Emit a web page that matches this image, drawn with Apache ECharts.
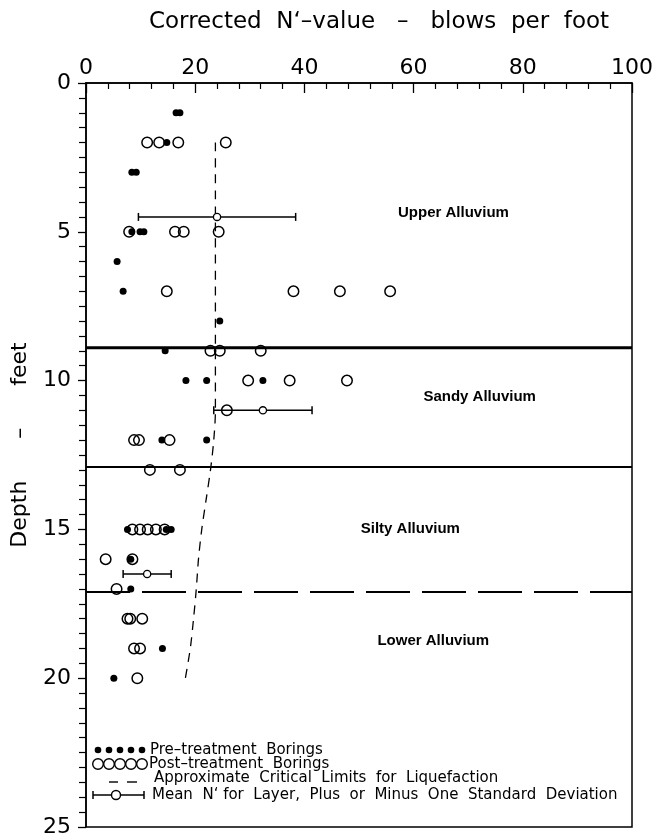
<!DOCTYPE html>
<html><head><meta charset="utf-8">
<script src="https://cdn.jsdelivr.net/npm/echarts@6/dist/echarts.min.js"></script>
<style>html,body{margin:0;padding:0;background:#fff}#c{width:655px;height:839px}</style>
</head><body><div id="c"></div>
<script>
// ---- data ----
const xTickValues = [0, 20, 40, 60, 80, 100];
const yTickValues = [0, 5, 10, 15, 20, 25];

const preN     = [16.5, 17.2, 14.8, 8.4, 9.2, 8.4, 9.9, 10.6, 5.7, 6.8, 24.5, 14.5, 18.3, 22.1, 32.4, 13.9, 22.1, 7.6, 14.7, 15.6, 8.2, 8.2, 14.0, 5.1];
const preDepth = [1,    1,    2,    3,   3,   5,   5,   5,    6,   7,   8,    9,    10,   10,   10,   12,   12,   15,  15,   15,   16,  17,  19,   20];

const postN     = [11.2, 13.4, 16.9, 25.6, 7.9, 16.3, 17.9, 24.3, 14.8, 38.0, 46.5, 55.7, 22.8, 24.5, 32.0, 29.7, 37.3, 47.8, 25.8, 8.8, 9.7, 15.3, 11.7, 17.2, 8.5, 9.9, 11.3, 12.8, 14.4, 3.6, 8.5, 5.6, 7.6, 8.1, 10.3, 8.8, 9.9, 9.4];
const postDepth = [2,    2,    2,    2,    5,   5,    5,    5,    7,    7,    7,    7,    9,    9,    9,    10,   10,   10,   11,   12,  12,  12,   13,   13,   15,  15,  15,   15,   15,   16,  16,  17,  18,  18,  18,   19,  19,  20];

const meanN     = [24.0, 32.4, 11.2];
const meanDepth = [4.5, 11, 16.5];
const meanSd    = [14.4, 9.0, 4.4];

const critN     = [23.7, 23.7, 23.7, 23.4, 22.8, 22.0, 21.2, 20.6, 20.2, 19.7, 19.1, 18.2];
const critDepth = [2,    9,    11,   12,   13,   14,   15,   16,   17,   18,   19,   20];

const boundaryDepth = [8.9, 12.9, 17.1];

const layerNames = ['Upper Alluvium', 'Sandy Alluvium', 'Silty Alluvium', 'Lower Alluvium'];
const layerX     = [67.3, 72.1, 59.4, 63.6];
const layerDepth = [4.35, 10.55, 14.98, 18.75];

// ---- chart ----
const FONT = 'DejaVu Sans';
const chart = echarts.init(document.getElementById('c'), null, {renderer: 'canvas'});

const boundaryStyles = [
  {width: 3, type: 'solid'},
  {width: 2, type: 'solid'},
  {width: 2, type: [44, 12]}
];

const series = [];
boundaryDepth.forEach((d, i) => {
  series.push({
    type: 'line', silent: true, symbol: 'none', z: 2,
    data: [[0, d], [100, d]],
    lineStyle: {color: '#000', width: boundaryStyles[i].width, type: boundaryStyles[i].type}
  });
});
series.push({
  type: 'line', silent: true, symbol: 'none', z: 2, smooth: 0.3,
  data: critN.map((v, i) => [v, critDepth[i]]),
  lineStyle: {color: '#000', width: 1.3, type: [9, 7]}
});
series.push({
  type: 'custom', z: 4, silent: true,
  data: meanN.map((m, i) => [m, meanDepth[i], meanSd[i]]),
  encode: {x: 0, y: 1},
  renderItem: function (params, api) {
    const m = api.value(0), d = api.value(1), s = api.value(2);
    const l = api.coord([m - s, d]), r = api.coord([m + s, d]), c = api.coord([m, d]);
    const st = {stroke: '#000', lineWidth: 1.5};
    return {type: 'group', children: [
      {type: 'line', shape: {x1: l[0], y1: l[1], x2: r[0], y2: r[1]}, style: st},
      {type: 'line', shape: {x1: l[0], y1: l[1] - 4, x2: l[0], y2: l[1] + 4}, style: st},
      {type: 'line', shape: {x1: r[0], y1: r[1] - 4, x2: r[0], y2: r[1] + 4}, style: st},
      {type: 'circle', shape: {cx: c[0], cy: c[1], r: 3.6}, style: {fill: '#fff', stroke: '#000', lineWidth: 1.3}}
    ]};
  }
});
series.push({
  type: 'scatter', z: 5, silent: true, symbol: 'circle', symbolSize: 7,
  data: preN.map((v, i) => [v, preDepth[i]]),
  itemStyle: {color: '#000', opacity: 1}
});
series.push({
  type: 'scatter', z: 6, silent: true, symbol: 'circle', symbolSize: 10.5,
  data: postN.map((v, i) => [v, postDepth[i]]),
  itemStyle: {color: 'rgba(0,0,0,0)', borderColor: '#000', borderWidth: 1.5, opacity: 1}
});
series.push({
  type: 'scatter', z: 7, silent: true, symbolSize: 0,
  data: layerNames.map((n, i) => ({name: n, value: [layerX[i], layerDepth[i]]})),
  itemStyle: {opacity: 1},
  label: {show: true, position: 'inside', formatter: '{b}', color: '#000',
          fontFamily: 'Liberation Sans', fontWeight: 'bold', fontSize: 15}
});

// legend drawn as graphics
const legendGraphics = [];
const lx = [98, 109, 120, 131, 142];
lx.forEach(x => legendGraphics.push({type: 'circle', shape: {cx: x, cy: 750, r: 3.3}, style: {fill: '#000'}}));
lx.forEach(x => legendGraphics.push({type: 'circle', shape: {cx: x, cy: 764, r: 5.3}, style: {fill: 'none', stroke: '#000', lineWidth: 1.4}}));
legendGraphics.push({type: 'line', shape: {x1: 109, y1: 782, x2: 118, y2: 782}, style: {stroke: '#000', lineWidth: 1.4}});
legendGraphics.push({type: 'line', shape: {x1: 127, y1: 782, x2: 137, y2: 782}, style: {stroke: '#000', lineWidth: 1.4}});
legendGraphics.push({type: 'line', shape: {x1: 93, y1: 795, x2: 144, y2: 795}, style: {stroke: '#000', lineWidth: 1.5}});
legendGraphics.push({type: 'line', shape: {x1: 93, y1: 791, x2: 93, y2: 799}, style: {stroke: '#000', lineWidth: 1.5}});
legendGraphics.push({type: 'line', shape: {x1: 144, y1: 791, x2: 144, y2: 799}, style: {stroke: '#000', lineWidth: 1.5}});
legendGraphics.push({type: 'circle', shape: {cx: 116, cy: 795, r: 4.5}, style: {fill: '#fff', stroke: '#000', lineWidth: 1.4}});
const legendTexts = [
  ['Pre\u2013treatment  Borings', 150, 750],
  ['Post\u2013treatment  Borings', 149, 764],
  ['Approximate  Critical  Limits  for  Liquefaction', 154, 778],
  ['Mean  N\u2018 for  Layer,  Plus  or  Minus  One  Standard  Deviation', 152, 795]
];
legendTexts.forEach(t => legendGraphics.push({
  type: 'text', x: t[1], y: t[2],
  style: {text: t[0], fill: '#000', font: '15px "DejaVu Sans"', textVerticalAlign: 'middle', verticalAlign: 'middle'}
}));

chart.setOption({
  animation: false,
  backgroundColor: '#fff',
  grid: {left: 86, right: 23, top: 83, bottom: 12, show: true, borderColor: '#000', borderWidth: 1.5,
         backgroundColor: 'transparent', containLabel: false, outerBoundsMode: 'none'},
  xAxis: {
    type: 'value', position: 'top', min: xTickValues[0], max: xTickValues[xTickValues.length - 1], interval: 20,
    name: 'Corrected  N\u2018\u2013value   \u2013   blows  per  foot', nameLocation: 'middle', nameGap: 49,
    nameTextStyle: {fontFamily: FONT, fontSize: 23, color: '#000', padding: [0, 0, 0, 40]},
    axisLine: {show: true, lineStyle: {color: '#000', width: 1.5}},
    axisTick: {show: true, inside: true, length: 10, lineStyle: {color: '#000', width: 1.3}},
    minorTick: {show: true, splitNumber: 5, length: 6, lineStyle: {color: '#000', width: 1.2}},
    axisLabel: {fontFamily: FONT, fontSize: 22, color: '#000', margin: 4},
    splitLine: {show: false}, minorSplitLine: {show: false}
  },
  yAxis: {
    type: 'value', inverse: true, min: yTickValues[0], max: yTickValues[yTickValues.length - 1], interval: 5,
    name: 'Depth      \u2013      feet', nameLocation: 'middle', nameGap: 55,
    nameTextStyle: {fontFamily: FONT, fontSize: 22, color: '#000', padding: [0, 0, 0, 20]},
    axisLine: {show: true, lineStyle: {color: '#000', width: 1.5}},
    axisTick: {show: true, inside: false, length: 8, lineStyle: {color: '#000', width: 1.3}},
    minorTick: {show: true, splitNumber: 10, length: 7, lineStyle: {color: '#000', width: 1.2}},
    axisLabel: {fontFamily: FONT, fontSize: 22, color: '#000', margin: 15},
    splitLine: {show: false}, minorSplitLine: {show: false}
  },
  graphic: legendGraphics,
  series: series
});
</script>
</body></html>
